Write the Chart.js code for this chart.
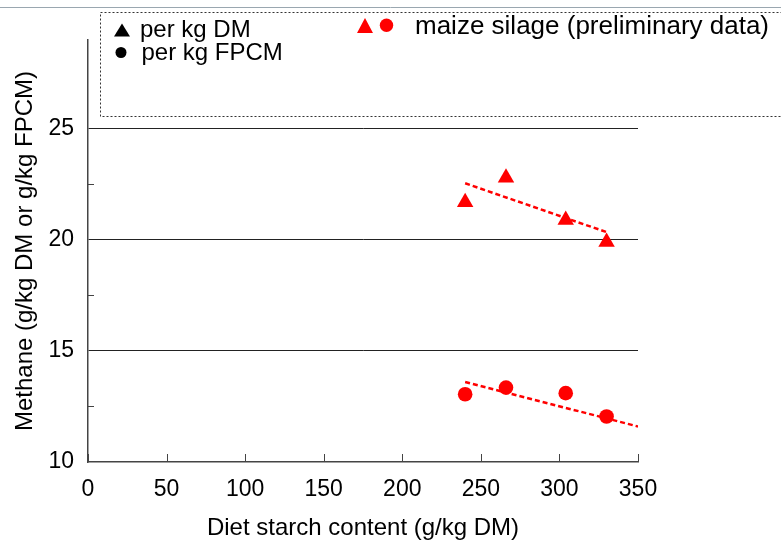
<!DOCTYPE html>
<html><head><meta charset="utf-8">
<script src="https://cdn.jsdelivr.net/npm/chart.js@4/dist/chart.umd.min.js"></script>
<style>html,body{margin:0;padding:0;background:#fff}#wrap{width:781px;height:543px;position:relative}</style>
</head><body><div id="wrap"><canvas id="c" width="781" height="543"></canvas></div>
<script>
const starchDM = [240, 266, 304, 330];
const methanePerDM = [21.7, 22.8, 20.9, 19.9];
const starchFPCM = [240, 266, 304, 330];
const methanePerFPCM = [13.05, 13.35, 13.1, 12.05];
const trendDMx = [240, 330];
const trendDMy = [22.55, 20.35];
const trendFPCMx = [240, 350];
const trendFPCMy = [13.6, 11.6];
const xTicks = [0, 50, 100, 150, 200, 250, 300, 350];
const yTicks = [10, 15, 20, 25];
const yMinorTicks = [12.5, 17.5, 22.5];
const xTitle = 'Diet starch content (g/kg DM)';
const yTitle = 'Methane (g/kg DM or g/kg FPCM)';
const legendLabels = ['per kg DM', 'per kg FPCM', 'maize silage (preliminary data)'];

const FONT = "'Liberation Sans', Arial, sans-serif";
Chart.defaults.font.family = FONT;
Chart.defaults.color = '#000';

const pairs = (xs, ys) => xs.map((x, i) => ({x: x, y: ys[i]}));

const decor = {
  id: 'decor',
  afterDraw(chart) {
    const ctx = chart.ctx;
    const xs = chart.scales.x, ys = chart.scales.y;
    const ca = chart.chartArea;
    ctx.save();
    // top thin line
    ctx.strokeStyle = '#9aa7b0';
    ctx.lineWidth = 1;
    ctx.beginPath(); ctx.moveTo(0, 7.5); ctx.lineTo(781, 7.5); ctx.stroke();
    // minor y ticks (inward)
    ctx.strokeStyle = '#444';
    ctx.lineWidth = 1;
    yMinorTicks.forEach(v => {
      const py = Math.round(ys.getPixelForValue(v)) + 0.5;
      ctx.beginPath(); ctx.moveTo(ca.left, py); ctx.lineTo(ca.left + 6, py); ctx.stroke();
    });
    // x ticks (inward)
    xTicks.forEach(v => {
      const px = Math.round(xs.getPixelForValue(v)) + 0.5;
      ctx.beginPath(); ctx.moveTo(px, ca.bottom); ctx.lineTo(px, ca.bottom - 8); ctx.stroke();
    });
    // legend box
    ctx.strokeStyle = '#333';
    ctx.setLineDash([2, 2]);
    ctx.strokeRect(100.5, 12.5, 700, 104);
    ctx.setLineDash([]);
    const tri = (cx, cy, w, h, col) => {
      ctx.fillStyle = col;
      ctx.beginPath();
      ctx.moveTo(cx, cy - h / 2); ctx.lineTo(cx + w / 2, cy + h / 2); ctx.lineTo(cx - w / 2, cy + h / 2);
      ctx.closePath(); ctx.fill();
    };
    const circ = (cx, cy, r, col) => {
      ctx.fillStyle = col;
      ctx.beginPath(); ctx.arc(cx, cy, r, 0, Math.PI * 2); ctx.fill();
    };
    tri(122, 30, 16, 13, '#000');
    circ(121, 52.5, 5.5, '#000');
    tri(365, 25.5, 16, 15, '#ff0000');
    circ(386.5, 25.3, 6.7, '#ff0000');
    ctx.fillStyle = '#000';
    ctx.textBaseline = 'alphabetic';
    ctx.textAlign = 'left';
    ctx.font = '24px ' + FONT;
    ctx.fillText(legendLabels[0], 140, 36.5);
    ctx.fillText(legendLabels[1], 141.5, 60);
    ctx.font = '26px ' + FONT;
    ctx.fillText(legendLabels[2], 415, 34);
    ctx.restore();
  }
};

new Chart(document.getElementById('c'), {
  type: 'scatter',
  data: {
    datasets: [
      {type: 'line', data: pairs(trendDMx, trendDMy), borderColor: '#ff0000', borderWidth: 2.5, borderDash: [5, 3], pointRadius: 0, fill: false},
      {type: 'line', data: pairs(trendFPCMx, trendFPCMy), borderColor: '#ff0000', borderWidth: 2.5, borderDash: [5, 3], pointRadius: 0, fill: false},
      {data: pairs(starchDM, methanePerDM), pointStyle: 'triangle', pointRadius: 9.5, backgroundColor: '#ff0000', borderWidth: 0},
      {data: pairs(starchFPCM, methanePerFPCM), pointStyle: 'circle', pointRadius: 7.3, backgroundColor: '#ff0000', borderWidth: 0}
    ]
  },
  options: {
    responsive: false,
    animation: false,
    layout: {padding: {left: 0, right: 143, top: 40, bottom: 0}},
    plugins: {legend: {display: false}, tooltip: {enabled: false}},
    scales: {
      x: {
        type: 'linear', min: 0, max: 350,
        afterBuildTicks: s => { s.ticks = xTicks.map(v => ({value: v})); },
        afterFit: s => { s.height = 81; },
        grid: {display: false, drawTicks: false},
        border: {display: true, color: '#444', width: 1.5},
        ticks: {color: '#000', font: {size: 23}, padding: 14, maxRotation: 0, autoSkip: false},
        title: {display: true, text: xTitle, color: '#000', font: {size: 24}, padding: {top: 0, bottom: 0}}
      },
      y: {
        type: 'linear', min: 10, max: 29,
        afterBuildTicks: s => { s.ticks = yTicks.map(v => ({value: v})); },
        afterFit: s => { s.width = 88; },
        grid: {color: c => (c.tick && c.tick.value === 10) ? 'rgba(0,0,0,0)' : '#222', lineWidth: 1, drawTicks: false},
        border: {display: true, color: '#444', width: 1.5},
        ticks: {color: '#000', font: {size: 23}, padding: 14},
        title: {display: true, text: yTitle, color: '#000', font: {size: 24}, padding: {top: 11, bottom: 0}}
      }
    }
  },
  plugins: [decor]
});
</script>
</body></html>
